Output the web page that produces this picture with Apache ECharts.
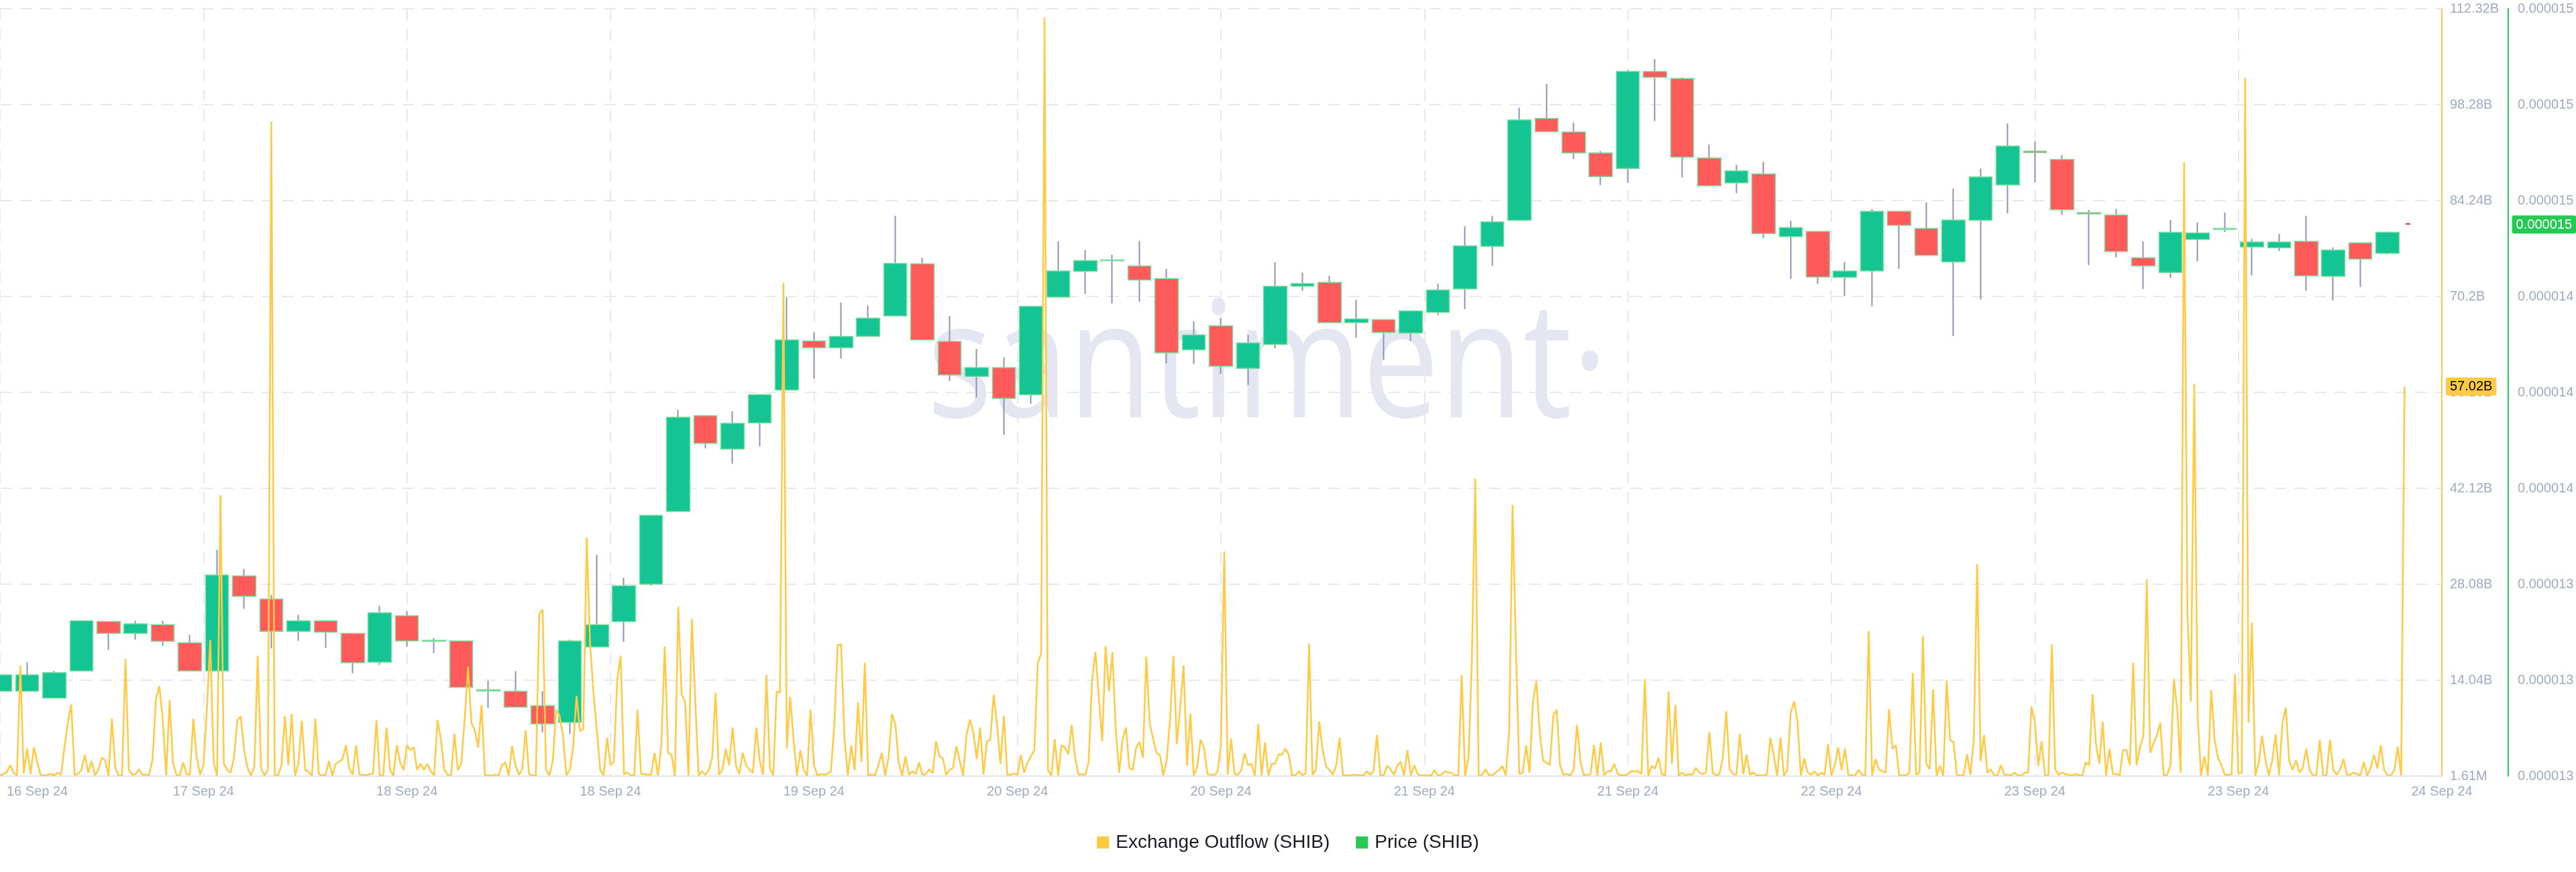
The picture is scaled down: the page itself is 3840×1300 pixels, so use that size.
<!DOCTYPE html>
<html>
<head>
<meta charset="utf-8">
<script src="https://cdn.jsdelivr.net/npm/echarts@6/dist/echarts.min.js"></script>
<style>
html,body{margin:0;padding:0;background:#ffffff;}
#chart{width:3840px;height:1300px;}
</style>
</head>
<body>
<div id="chart"></div>
<script>
// ---------------- DATA ----------------
// x tick labels (one every 15 hours, starting at the first tick)
const xTickLabels = ['16 Sep 24','17 Sep 24','18 Sep 24','18 Sep 24','19 Sep 24','20 Sep 24','20 Sep 24','21 Sep 24','21 Sep 24','22 Sep 24','23 Sep 24','23 Sep 24','24 Sep 24'];
const outflowTickLabels = ['1.61M','14.04B','28.08B','42.12B','56.16B','70.2B','84.24B','98.28B','112.32B'];
const priceTickLabels = ['0.000013','0.000013','0.000013','0.000014','0.000014','0.000014','0.000015','0.000015','0.000015'];

// time steps (hours)
const outflowStepHours = 0.25;
const candleStepHours = 2;

// Exchange Outflow (SHIB), billions, 15-minute points
const outflowSeg1 = [
0.1,0.3,0.6,1.6,0.5,0.1,16.2,0.4,4.0,0.3,
4.2,2.0,0.1,0.1,0.2,0.3,0.1,0.5,0.2,4.2,
7.8,10.5,0.2,0.3,0.9,3.1,0.5,2.2,0.1,0.9,
2.7,2.3,0.05,8.4,1.2,0.1,0.1,17.1,0.9,0.2,
0.3,1.0,0.2,0.2,0.2,2.5,11.3,13.2,8.2,0.1,
11.1,2.0,0.2,0.1,2.0,0.3,0.2,8.4,2.7,0.2,
1.6,9.7,19.9,2.0,0.05,41.1,1.8,0.9,0.5,2.7,
8.2,8.7,3.7,1.2,0.1,1.4,17.6,1.1,0.1,0.9,
95.8,0.1,0.1,1.6,8.8,1.6,9.1,0.05,1.8,8.1,
0.9,0.6,0.1,8.4,0.3,0.1,0.2,2.2,0.05,1.8,
2.1,2.5,4.5,1.1,0.2,4.5,0.2,0.2,0.1,0.3,
0.3,8.2,0.05,0.1,7.1,0.9,0.05,4.5,2.0,0.9,
4.5,3.8,4.2,0.9,1.8,0.9,1.8,0.7,0.1,8.2,
5.4,0.9,0.2,0.1,6.2,0.9,1.8,8.2,16.0,7.8,
6.7,4.2,10.4,0.1,0.1,0.1,0.2,0.1,1.6,2.0,
0.1,4.4];
const outflowSeg2 = [
1.6,0.2,1.0,6.7,0.3,0.1,0.1,23.7,24.4,0.9,
0.1,2.2,9.7,8.8,6.0,0.1,0.9,4.2,11.7,6.6,
6.9,34.9,19.2,12.2,6.6,0.9,0.1,5.6,1.6,2.1,
14.2,17.6,0.3,0.5,0.1,0.1,9.7,0.3,0.3,0.2,
0.2,3.4,0.1,4.5,19.0,3.4,3.1,0.05,24.8,11.9,
10.9,0.1,23.0,11.1,0.1,0.7,0.2,0.9,2.7,12.2,
0.2,0.9,4.0,1.6,7.1,1.6,0.3,3.4,1.6,0.9,
0.5,7.1,2.3,0.2,14.8,1.2,0.1,12.4,12.2,72.2,
4.0,11.6,5.3,0.05,3.8,0.9,0.05,9.7,1.6,0.1,
0.3,0.2,0.3,0.7,7.5,19.2,19.3,5.6,0.1,4.5,
0.9,10.8,2.1,16.6,0.1,0.2,0.1,1.6,3.4,0.1,
2.7,9.1,7.6,2.0,0.05,2.9,0.2,0.7,0.3,2.0,
0.2,0.3,1.0,0.4,5.1,2.9,2.6,0.2,0.9,1.2,
4.4,2.2,0.05,6.0,8.3,6.4,2.5,7.1,0.2,5.1,
5.3,11.9,7.5,1.8,8.8,0.2,0.2,0.4,0.2,3.1,
0.5,2.0,2.9];
const outflowSeg3 = [
3.8,16.6,17.9,111.0,0.9,0.05,5.4,0.1,4.5,4.2,
3.2,7.5,2.7,0.2,0.3,0.2,2.0,14.0,18.2,11.7,
5.1,19.0,12.4,18.1,6.7,0.5,5.4,7.1,1.2,0.9,
4.2,5.0,2.7,17.5,7.7,5.5,3.4,3.1,0.1,2.3,
8.2,17.6,4.7,10.2,16.2,1.5,9.1,0.05,1.4,5.3,
4.2,0.3,0.2,0.1,0.7,4.5,32.9,0.2,5.5,0.3,
0.2,0.9,3.3,1.6,1.8,0.05,7.6,0.1,4.9,0.1,
1.8,1.8,3.2,3.1,4.0,3.1,0.1,0.1,0.7,0.1,
0.4,19.4,0.2,1.0,8.0,3.8,1.4,0.9,0.2,1.6,
5.6,0.1,0.1,0.1,0.2,0.2,0.1,0.1,0.7,0.2,
0.7,6.0,0.1,0.1,1.5,1.0,0.2,1.5,2.1,0.1,
3.8,0.1,1.6,0.3,0.1,0.1,0.1,0.1,0.9,0.1,
0.2,0.7,0.5,0.5,0.1,0.1,14.8,0.05,2.7,17.0,
43.5,0.1,0.2,1.0,0.2,0.1,0.5,0.9,1.5,0.1,
6.7,39.7,18.4,0.3,0.5,4.5,0.5,10.8,13.9,6.4,
2.3,2.0];
const outflowSeg4 = [
1.6,8.8,9.7,1.6,0.2,0.3,0.1,0.9,7.5,2.2,
0.1,0.2,0.3,4.5,0.05,4.9,0.1,0.7,0.7,1.8,
0.3,0.1,0.1,0.3,0.7,0.7,0.7,0.3,14.2,0.05,
1.5,1.1,2.7,0.3,0.1,12.4,1.8,10.4,0.05,0.5,
0.1,0.3,0.2,1.2,0.5,0.3,0.5,6.5,0.5,0.1,
0.3,2.7,9.5,1.0,0.3,0.2,6.2,0.3,3.1,0.2,
0.5,0.1,0.1,0.1,0.2,5.6,3.1,0.05,5.6,0.05,
0.9,9.3,10.9,8.0,0.1,2.6,0.5,0.2,0.7,0.1,
0.5,0.2,4.7,0.05,1.6,4.2,0.9,4.0,0.2,0.1,
0.1,0.9,0.2,0.1,21.2,0.05,2.5,1.0,0.7,0.5,
9.8,4.0,4.5,0.1,0.1,0.1,0.5,15.1,0.2,0.5,
20.5,1.8,1.0,12.7,0.05,1.5,0.05,14.0,5.3,5.0,
0.2,0.1,0.1,3.2,0.2,5.3,31.0,2.2,6.0,0.5,
1.0,0.1,0.1,1.6,0.2,0.2,0.1,0.5,0.1,0.1,
0.5,0.5,10.2,7.8,1.5,5.1,0.1,0.1,19.3,1.0,
0.2,0.5,0.3];
const outflowSeg5 = [
0.2,0.1,0.3,0.1,0.1,2.0,1.6,12.0,4.8,1.8,
8.0,0.05,4.0,0.3,0.3,0.1,3.8,3.8,1.6,16.6,
1.6,4.2,5.9,28.8,3.4,4.8,6.0,7.8,0.1,0.2,
1.6,14.2,9.7,0.5,89.8,23.6,10.9,57.4,8.9,0.05,
2.9,0.05,12.6,5.3,2.7,1.6,0.2,0.2,0.2,14.9,
0.4,0.5,102.2,7.8,22.5,0.05,2.0,5.9,2.3,0.1,
2.3,6.1,0.1,7.7,10.0,2.2,0.9,2.3,0.5,1.2,
4.0,0.9,0.1,0.1,5.3,0.1,0.1,5.3,0.9,0.2,
0.9,2.5,0.2,0.2,0.5,0.3,0.1,2.1,0.05,1.2,
3.1,1.1,4.5,0.9,0.1,0.1,0.9,4.3,0.1,57.02];

// Price (SHIB), 2-hour candles, in units of 1e-8 USD
const candleOpen = [1308.3,1308.3,1306.0,1315.1,1331.6,1327.6,1330.5,1324.5,1315.1,1346.8,
1339.1,1328.3,1331.8,1327.6,1318.0,1333.5,1325.0,1325.1,1308.4,1308.3,
1303.5,1297.9,1323.1,1331.5,1344.0,1368.3,1400.2,1389.1,1397.8,1408.8,
1425.2,1422.9,1426.7,1433.5,1450.9,1425.0,1413.3,1416.3,1407.2,1439.8,
1448.4,1452.2,1450.2,1446.0,1422.2,1430.2,1416.0,1424.0,1443.4,1444.7,
1431.3,1432.3,1427.8,1434.7,1442.5,1456.7,1465.4,1499.4,1494.9,1487.9,
1482.7,1515.1,1512.7,1486.2,1477.9,1480.9,1460.0,1461.7,1446.4,1448.5,
1468.4,1462.7,1451.5,1465.4,1477.2,1488.5,1485.7,1468.0,1467.2,1452.9,
1448.0,1459.0,1462.4,1456.5,1456.2,1458.4,1446.7,1457.9,1454.4];
const candleClose = [1313.8,1313.8,1314.5,1331.8,1327.6,1330.8,1325.0,1315.1,1347.1,1340.0,
1328.3,1331.8,1328.0,1317.8,1334.5,1325.1,1325.3,1309.6,1308.8,1303.0,
1297.4,1325.1,1330.5,1343.5,1367.0,1399.7,1391.0,1397.7,1407.3,1425.5,
1422.9,1426.7,1432.8,1451.0,1425.5,1413.8,1416.3,1406.0,1436.7,1448.5,
1452.0,1451.9,1445.5,1421.2,1427.2,1416.7,1424.5,1443.4,1444.3,1431.3,
1432.5,1428.0,1435.2,1442.2,1456.9,1464.9,1498.9,1495.0,1487.9,1480.0,
1515.1,1513.1,1486.5,1476.9,1481.9,1461.0,1463.0,1446.5,1448.5,1468.4,
1463.7,1453.7,1465.5,1479.9,1490.2,1488.0,1468.9,1467.5,1455.0,1450.2,
1461.4,1461.2,1462.7,1458.2,1458.2,1446.9,1455.5,1452.5,1461.4];
const candleLow = [1308.3,1308.3,1306.0,1315.1,1322.1,1325.5,1323.5,1315.1,1315.1,1335.8,
1322.6,1325.1,1322.8,1314.3,1317.1,1323.1,1321.0,1309.6,1302.8,1303.0,
1294.6,1294.1,1323.1,1324.8,1343.5,1368.3,1389.3,1384.2,1390.0,1408.8,
1412.7,1419.3,1426.7,1433.5,1425.5,1411.8,1406.3,1393.8,1404.2,1439.8,
1440.9,1437.7,1438.2,1417.7,1417.5,1414.2,1410.5,1422.7,1441.9,1431.3,
1426.2,1418.8,1425.2,1433.8,1435.8,1450.2,1465.4,1495.0,1485.9,1477.2,
1477.9,1498.5,1479.7,1476.9,1474.5,1459.5,1445.9,1444.2,1440.2,1436.7,
1449.2,1453.7,1426.8,1439.0,1467.7,1478.0,1467.2,1450.5,1453.0,1442.5,
1446.2,1451.7,1461.5,1447.0,1455.2,1441.9,1438.7,1443.2,1454.0];
const candleHigh = [1313.8,1318.0,1315.1,1331.8,1331.6,1331.8,1331.8,1327.1,1355.5,1349.1,
1340.5,1333.8,1331.8,1327.6,1336.8,1335.1,1326.1,1325.1,1311.8,1315.0,
1308.3,1325.5,1353.8,1346.2,1367.0,1402.2,1400.2,1401.7,1407.3,1439.7,
1428.0,1438.0,1437.0,1466.9,1452.9,1433.5,1422.5,1419.7,1436.7,1458.4,
1455.5,1453.9,1458.5,1449.2,1431.7,1432.8,1427.2,1451.4,1448.0,1446.9,
1438.9,1432.3,1435.2,1444.3,1463.4,1466.9,1503.0,1510.9,1498.0,1488.5,
1515.6,1519.2,1513.1,1490.7,1483.9,1484.9,1465.2,1461.7,1451.5,1469.2,
1468.4,1471.4,1476.0,1482.7,1497.7,1491.7,1487.2,1468.9,1469.2,1458.4,
1465.5,1464.7,1468.0,1459.2,1460.9,1466.9,1456.4,1457.9,1461.7];
// latest (still open) candle: [hour, open, close, low, high]
const latestCandle = [177.5, 1464.4, 1464.0, 1464.0, 1464.6];

// ---------------- BUILD ----------------
const outflow = [].concat(outflowSeg1, outflowSeg2, outflowSeg3, outflowSeg4, outflowSeg5);
const lineData = outflow.map((v, j) => [j * outflowStepHours, v]);
const wickData = candleOpen.map((o, i) => [i * candleStepHours, o, candleClose[i], candleLow[i], candleHigh[i]]);
const bodyData = candleOpen.map((o, i) => {
  const c = candleClose[i];
  return [i * candleStepHours, o, c, Math.min(o, c), Math.max(o, c)];
});
const outflowLast = outflow[outflow.length - 1];
const priceLast = latestCandle[2];

const FONT = "'Liberation Sans', Arial, Helvetica, sans-serif";
const LABEL = '#9faac4';
const GRID = '#e7e9f2';
const OUTFLOW_INTERVAL = 14.04;
const PRICE_MIN = 1280, PRICE_INTERVAL = 32;

const chart = echarts.init(document.getElementById('chart'), null, {renderer: 'canvas'});
chart.setOption({
  backgroundColor: '#ffffff',
  animation: false,
  grid: { left: 0, right: 200, top: 13, bottom: 143, containLabel: false },
  graphic: [{
    type: 'text', x: 1382, y: 630, scaleY: 1.19, z: -10, silent: true,
    style: {
      text: 'santiment\u00b7', x: 0, y: -65,
      font: '204px "Open Sans"', fill: '#e4e7f1',
      align: 'left', verticalAlign: 'middle', textAlign: 'left', textVerticalAlign: 'middle'
    }
  }],
  legend: {
    left: 'center', top: 1237, icon: 'rect', itemWidth: 18, itemHeight: 18, itemGap: 39,
    textStyle: { fontSize: 28, color: '#181b22', fontFamily: FONT, padding: [0, 0, 0, 5] },
    data: [
      { name: 'Exchange Outflow (SHIB)', icon: 'rect', itemStyle: { color: '#ffc940', borderWidth: 0 } },
      { name: 'Price (SHIB)', icon: 'rect', itemStyle: { color: '#26c953', borderWidth: 0 } }
    ]
  },
  xAxis: {
    type: 'value', min: 0, max: 180, interval: 15,
    axisLine: { show: true, onZero: false, lineStyle: { color: '#e3e6ef', width: 2 } },
    axisTick: { show: false },
    splitLine: { show: true, lineStyle: { color: GRID, width: 2, type: [18, 12] } },
    axisLabel: {
      color: LABEL, fontSize: 20, fontFamily: FONT, margin: 13,
      alignMinLabel: 'left', alignMaxLabel: 'center',
      formatter: (v) => {
        const i = Math.round(v / 15);
        const s = xTickLabels[i] || '';
        return i === 0 ? '{first|' + s + '}' : s;
      },
      rich: { first: { color: LABEL, fontSize: 20, fontFamily: FONT, padding: [0, 0, 0, 10] } }
    }
  },
  yAxis: [
    {
      type: 'value', position: 'right', offset: 0, min: 0, max: OUTFLOW_INTERVAL * 8, interval: OUTFLOW_INTERVAL,
      axisLine: { show: true, onZero: false, lineStyle: { color: '#ffcb47', width: 2 } },
      axisTick: { show: false },
      splitLine: { show: true, lineStyle: { color: GRID, width: 2, type: [18, 12] } },
      axisLabel: {
        color: LABEL, fontSize: 20, fontFamily: FONT, margin: 12,
        formatter: (v) => outflowTickLabels[Math.round(v / OUTFLOW_INTERVAL)] || ''
      },
      axisPointer: {
        show: true, type: 'line', status: 'show', value: outflowLast, snap: false, triggerTooltip: false,
        lineStyle: { opacity: 0 },
        label: {
          show: true, backgroundColor: '#ffcb47', color: '#000000', fontSize: 20, fontFamily: FONT,
          padding: [4, 6, 3, 6], margin: 6,
          formatter: (p) => Number(p.value).toFixed(2) + 'B'
        }
      }
    },
    {
      type: 'value', position: 'right', offset: 99, min: PRICE_MIN, max: PRICE_MIN + PRICE_INTERVAL * 8, interval: PRICE_INTERVAL,
      axisLine: { show: true, onZero: false, lineStyle: { color: '#26c953', width: 2 } },
      axisTick: { show: false },
      splitLine: { show: false },
      axisLabel: {
        color: LABEL, fontSize: 20, fontFamily: FONT, margin: 14,
        formatter: (v) => priceTickLabels[Math.round((v - PRICE_MIN) / PRICE_INTERVAL)] || ''
      },
      axisPointer: {
        show: true, type: 'line', status: 'show', value: priceLast, snap: false, triggerTooltip: false,
        lineStyle: { opacity: 0 },
        label: {
          show: true, backgroundColor: '#26c953', color: '#ffffff', fontSize: 20, fontFamily: FONT,
          padding: [4, 6, 3, 6], margin: 8,
          formatter: (p) => (Number(p.value) * 1e-8).toFixed(6)
        }
      }
    }
  ],
  series: [
    {
      name: 'Price (SHIB)', type: 'candlestick', yAxisIndex: 1, data: wickData, barWidth: 1, z: 2,
      itemStyle: { color: '#8d93b6', color0: '#8d93b6', borderColor: '#8d93b6', borderColor0: '#8d93b6', borderWidth: 2 }
    },
    {
      name: 'Price (SHIB)', type: 'candlestick', yAxisIndex: 1, data: bodyData, barWidth: 35, z: 3,
      itemStyle: { color: '#15c493', color0: '#ff5b5b', borderColor: '#7edc9f', borderColor0: '#7edc9f', borderWidth: 1.5 }
    },
    {
      name: 'Price (SHIB)', type: 'candlestick', yAxisIndex: 1, data: [latestCandle], barWidth: 7, z: 3,
      itemStyle: { color: '#15c493', color0: '#ff5b5b', borderColor: '#15c493', borderColor0: '#e4584f', borderWidth: 1 }
    },
    {
      name: 'Exchange Outflow (SHIB)', type: 'line', yAxisIndex: 0, data: lineData, z: 5,
      showSymbol: false, symbol: 'none', smooth: false,
      lineStyle: { color: '#ffcb47', width: 2.6 }, itemStyle: { color: '#ffcb47' }
    }
  ]
});
</script>
</body>
</html>
